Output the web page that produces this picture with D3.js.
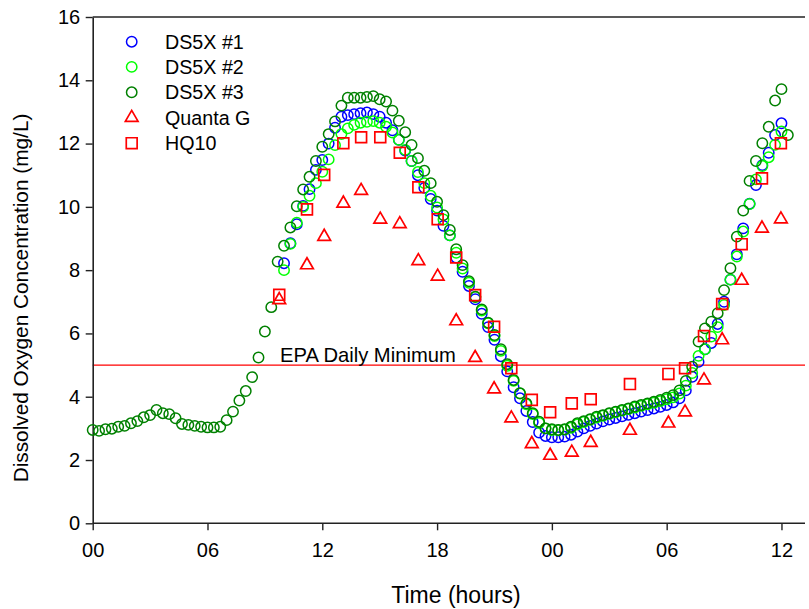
<!DOCTYPE html>
<html><head><meta charset="utf-8">
<script src="https://cdn.jsdelivr.net/npm/d3@7"></script>
<style>
body{margin:0;background:#fff}
svg{display:block}
text{font-family:Arial,"Liberation Sans",sans-serif;fill:#000}
</style>
</head><body><svg id="chart" width="809" height="609"></svg>
<script>
// ---------- data ----------
const xTickHours  = [0, 6, 12, 18, 24, 30, 36];
const xTickLabels = ["00", "06", "12", "18", "00", "06", "12"];
const yTickValues = [0, 2, 4, 6, 8, 10, 12, 14, 16];

const sondeIntervalHours = 1 / 3;          // 20-minute logging interval
const ds5x3StartIndex = 0;
const ds5x3 = [2.95,2.92,2.97,2.99,3.05,3.08,3.16,3.23,3.35,3.42,
               3.58,3.48,3.45,3.32,3.14,3.11,3.08,3.05,3.03,3.03,
               3.05,3.26,3.53,3.88,4.18,4.62,5.24,6.06,6.83,8.27,
               8.77,9.35,10.02,10.55,10.95,11.45,11.9,12.3,12.7,13.2,
               13.45,13.45,13.45,13.47,13.5,13.4,13.33,13.04,12.72,12.36,
               11.96,11.54,11.14,10.75,10.16,9.74,9.27,8.66,8.16,7.65,
               7.16,6.76,6.34,5.95,5.5,5.03,4.53,4.11,3.79,3.48,
               3.21,3.0,2.97,2.95,2.97,3.05,3.16,3.23,3.29,3.37,
               3.42,3.48,3.53,3.58,3.63,3.69,3.74,3.79,3.84,3.9,
               3.97,4.05,4.2,4.5,4.95,5.74,6.16,6.37,6.64,7.37,
               8.06,9.06,9.88,10.82,11.45,12.01,12.53,13.36,13.72,12.27];
const ds5x1StartIndex = 30;
const ds5x1 = [8.22,8.85,9.45,10.03,10.56,11.17,11.48,12.0,12.5,12.85,
               12.9,12.93,12.96,12.98,12.93,12.85,12.66,12.42,12.12,11.78,
               11.45,11.0,10.6,10.25,9.88,9.4,9.1,8.4,7.95,7.5,
               7.08,6.62,6.2,5.8,5.28,4.8,4.3,3.95,3.55,3.2,
               2.87,2.76,2.72,2.72,2.74,2.8,2.9,3.0,3.08,3.15,
               3.22,3.28,3.33,3.38,3.43,3.48,3.53,3.58,3.63,3.68,
               3.74,3.82,3.95,4.2,4.63,5.1,5.5,5.7,6.3,7.0,
               7.7,8.5,9.32,10.1,10.69,11.32,11.71,12.27,12.64];
const ds5x2StartIndex = 30;
const ds5x2 = [8.0,8.83,9.5,10.0,10.35,10.75,11.11,11.5,11.95,12.3,
               12.48,12.59,12.66,12.69,12.71,12.66,12.53,12.35,12.12,11.8,
               11.45,11.1,10.75,10.35,9.98,9.6,9.1,8.55,8.05,7.6,
               7.15,6.72,6.32,5.92,5.45,4.98,4.5,4.1,3.76,3.45,
               3.17,3.0,2.95,2.94,2.96,3.02,3.12,3.2,3.27,3.34,
               3.4,3.46,3.51,3.56,3.61,3.66,3.71,3.76,3.81,3.86,
               3.92,3.98,4.1,4.35,4.75,5.29,5.5,5.9,6.2,6.9,
               7.7,8.43,9.22,10.09,10.87,11.29,11.57,11.96,12.38];

const probeHours = [9.75,11.2,12.1,13.1,14.03,15.03,16.05,17.02,18.03,19.0,
                    19.99,20.98,21.88,22.95,23.91,25.04,26.03,28.08,30.09,30.96,
                    31.95,32.9,33.92,34.98,35.97];
const quantaG = [7.06,8.16,9.06,10.11,10.51,9.6,9.46,8.29,7.8,6.39,
                 5.23,4.24,3.32,2.51,2.14,2.24,2.55,2.93,3.16,3.51,
                 4.52,5.79,7.67,9.32,9.61];
const hq10 = [7.22,9.92,11.01,12.01,12.2,12.2,11.71,10.62,9.61,8.4,
              7.21,6.21,4.9,3.9,3.51,3.79,3.92,4.4,4.72,4.9,
              5.92,6.93,8.82,10.9,12.01];

const epaMinimum = 5;
const legendLabels = ["DS5X #1", "DS5X #2", "DS5X #3", "Quanta G", "HQ10"];

// ---------- drawing ----------
const svg = d3.select("#chart");
const x = d3.scaleLinear().domain([0, 37.23]).range([92.7, 805]);
const y = d3.scaleLinear().domain([0, 16]).range([523.3, 17]);

const colors = {ds1: "#0000ff", ds2: "#00ff00", ds3: "#008000", red: "#ff0000"};
const circleR = 5.2;

// EPA line
svg.append("line")
  .attr("x1", x(0)).attr("x2", x(37.23))
  .attr("y1", y(epaMinimum)).attr("y2", y(epaMinimum))
  .attr("stroke", colors.red).attr("stroke-width", 1.2);
svg.append("text").attr("x", 280).attr("y", y(epaMinimum) - 3.5)
  .attr("font-size", 20.2).text("EPA Daily Minimum");

// top frame line
svg.append("line")
  .attr("x1", x(0)).attr("x2", x(37.23))
  .attr("y1", y(16)).attr("y2", y(16))
  .attr("stroke", "#222").attr("stroke-width", 1.6);

// axes
const xAxis = d3.axisBottom(x).tickValues(xTickHours)
  .tickFormat((d, i) => xTickLabels[i]).tickSize(7).tickSizeOuter(0).tickPadding(13);
const gx = svg.append("g").attr("transform", `translate(0,${y(0)})`).call(xAxis);
gx.select(".domain").attr("d", `M${x(0)},0H${x(37.23)}`);
const yAxis = d3.axisLeft(y).tickValues(yTickValues).tickSize(7).tickSizeOuter(0).tickPadding(5.5);
const gy = svg.append("g").attr("transform", `translate(${x(0)},0)`).call(yAxis);
[gx, gy].forEach(g => {
  g.attr("font-family", null).attr("font-size", null);
  g.selectAll(".domain").attr("stroke", "#222").attr("stroke-width", 1.6);
  g.selectAll(".tick line").attr("stroke", "#222").attr("stroke-width", 1.4);
  g.selectAll(".tick text").attr("font-size", 20).attr("fill", "#000");
});

// axis titles
svg.append("text").attr("x", 456).attr("y", 603).attr("text-anchor", "middle")
  .attr("font-size", 23).text("Time (hours)");
svg.append("text").attr("transform", "translate(28,298) rotate(-90)")
  .attr("text-anchor", "middle").attr("font-size", 20.8)
  .text("Dissolved Oxygen Concentration (mg/L)");

// series
function sondePoints(values, start) {
  return values.map((v, i) => ({h: (start + i) * sondeIntervalHours, v}));
}
function drawCircles(pts, color) {
  svg.append("g").selectAll("circle").data(pts).join("circle")
    .attr("cx", d => x(d.h)).attr("cy", d => y(d.v)).attr("r", circleR)
    .attr("fill", "none").attr("stroke", color).attr("stroke-width", 1.5);
}
drawCircles(sondePoints(ds5x1, ds5x1StartIndex), colors.ds1);
drawCircles(sondePoints(ds5x2, ds5x2StartIndex), colors.ds2);
drawCircles(sondePoints(ds5x3, ds5x3StartIndex), colors.ds3);

const triPath = d3.symbol().type(d3.symbolTriangle).size(70)();
const sqPath = d3.symbol().type(d3.symbolSquare).size(118)();
svg.append("g").selectAll("path").data(quantaG).join("path")
  .attr("d", triPath)
  .attr("transform", (d, i) => `translate(${x(probeHours[i])},${y(d)})`)
  .attr("fill", "none").attr("stroke", colors.red).attr("stroke-width", 1.7);
svg.append("g").selectAll("path").data(hq10).join("path")
  .attr("d", sqPath)
  .attr("transform", (d, i) => `translate(${x(probeHours[i])},${y(d)})`)
  .attr("fill", "none").attr("stroke", colors.red).attr("stroke-width", 1.7);

// legend
const legendY = [41.7, 66.9, 92.3, 117.7, 143.2];
const legendColors = [colors.ds1, colors.ds2, colors.ds3, colors.red, colors.red];
const lg = svg.append("g");
legendLabels.forEach((lab, i) => {
  const cy = legendY[i];
  if (i < 3) {
    lg.append("circle").attr("cx", 131.7).attr("cy", cy).attr("r", circleR)
      .attr("fill", "none").attr("stroke", legendColors[i]).attr("stroke-width", 1.5);
  } else {
    lg.append("path").attr("d", i === 3 ? triPath : sqPath)
      .attr("transform", `translate(131.7,${cy})`)
      .attr("fill", "none").attr("stroke", legendColors[i]).attr("stroke-width", 1.7);
  }
  lg.append("text").attr("x", 165).attr("y", cy + 7).attr("font-size", 19.7).text(lab);
});
</script>
</body></html>
